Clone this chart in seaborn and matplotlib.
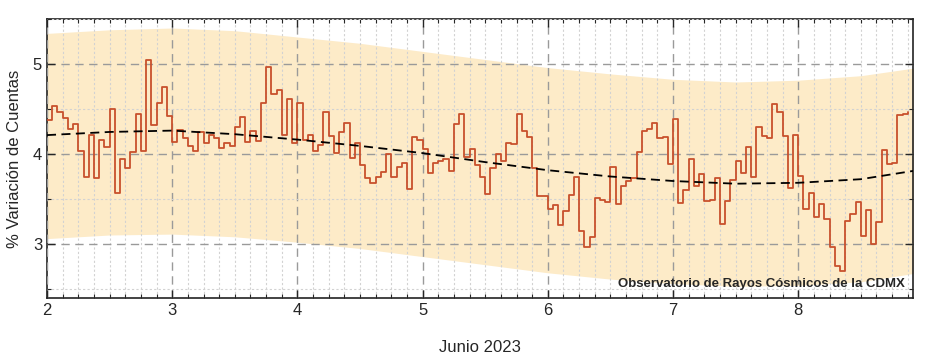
import numpy as np
import pandas as pd
import matplotlib
matplotlib.use("Agg")
import matplotlib.pyplot as plt
import matplotlib.dates as mdates
from matplotlib.ticker import MultipleLocator
import seaborn as sns

# Hourly % count variation, one list per day (June 2023)
day2 = [4.38, 4.53, 4.47, 4.40, 4.28, 4.33, 4.03, 3.75, 4.21, 3.73, 4.15, 4.08,
        4.50, 3.57, 3.95, 3.84, 4.02, 4.44, 4.03, 5.04, 4.32, 4.57, 4.75, 4.42]
day3 = [4.13, 4.27, 4.18, 4.09, 4.03, 4.24, 4.12, 4.21, 4.18, 4.07, 4.12, 4.09,
        4.30, 4.41, 4.13, 4.26, 4.14, 4.57, 4.97, 4.67, 4.71, 4.21, 4.61, 4.12]
day4 = [4.57, 4.15, 4.21, 4.03, 4.10, 4.47, 4.20, 4.01, 4.24, 4.34, 3.96, 4.12,
        3.88, 3.73, 3.68, 3.75, 3.80, 4.00, 3.74, 3.86, 3.90, 3.61, 4.19, 4.15]
day5 = [4.06, 3.79, 3.90, 3.92, 3.94, 3.81, 4.33, 4.44, 3.97, 4.06, 3.88, 3.74,
        3.56, 3.84, 4.00, 3.92, 4.12, 4.11, 4.44, 4.26, 4.19, 3.84, 3.53, 3.53]
day6 = [3.39, 3.43, 3.21, 3.37, 3.55, 3.74, 3.15, 2.97, 3.08, 3.51, 3.49, 3.47,
        3.86, 3.44, 3.64, 3.70, 3.73, 4.02, 4.26, 4.28, 4.34, 4.18, 4.19, 3.89]
day7 = [4.39, 3.46, 3.60, 3.95, 3.64, 3.78, 3.48, 3.49, 3.73, 3.22, 3.48, 3.71,
        3.92, 3.79, 4.08, 3.74, 4.30, 4.20, 4.18, 4.56, 4.47, 4.20, 3.62, 4.21]
day8 = [3.76, 3.39, 3.57, 3.30, 3.44, 3.28, 2.97, 2.76, 2.70, 3.26, 3.33, 3.47,
        3.09, 3.38, 3.00, 3.25, 4.04, 3.89, 3.90, 4.43, 4.44, 4.47]

# smooth fit and its band, sampled every 12 hours from June 2 00:00
fit_curve = [4.21, 4.245, 4.26, 4.22, 4.16, 4.09, 4.01, 3.91, 3.82, 3.75, 3.70,
             3.67, 3.68, 3.72, 3.83]
band_upper = [5.34, 5.38, 5.40, 5.37, 5.30, 5.23, 5.14, 5.05, 4.96, 4.89, 4.83,
              4.80, 4.82, 4.87, 4.97]
band_lower = [3.06, 3.10, 3.11, 3.08, 3.02, 2.95, 2.86, 2.77, 2.68, 2.61, 2.56,
              2.53, 2.54, 2.58, 2.69]

counts = day2 + day3 + day4 + day5 + day6 + day7 + day8
times = pd.date_range("2023-06-02", periods=len(counts), freq="h")
fit_times = pd.date_range("2023-06-02", periods=len(fit_curve), freq="12h")

df = pd.DataFrame({"fecha": times, "variacion": counts})
fit = pd.DataFrame({"fecha": fit_times, "ajuste": fit_curve,
                    "sup": band_upper, "inf": band_lower})

sns.set_style("ticks")
plt.rcParams["font.family"] = ["Liberation Sans", "DejaVu Sans"]

fig = plt.figure(figsize=(9.25, 3.58), dpi=100)
ax = fig.add_axes([47 / 925, 60 / 358, 866 / 925, 279 / 358])

# band
ax.fill_between(fit["fecha"], fit["inf"], fit["sup"], color="#fdebc8", lw=0, zorder=1)

# data and fit
sns.lineplot(data=df, x="fecha", y="variacion", drawstyle="steps-post",
             color="#c8502c", lw=1.3, ax=ax, zorder=3)
sns.lineplot(data=fit, x="fecha", y="ajuste", color="black", lw=1.3,
             linestyle=(0, (5, 3)), ax=ax, zorder=4)

ax.set_xlim(times[0], times[-1] + pd.Timedelta(hours=1))
ax.set_ylim(2.4, 5.5)

ax.xaxis.set_major_locator(mdates.DayLocator())
ax.xaxis.set_major_formatter(mdates.DateFormatter("%-d"))
ax.xaxis.set_minor_locator(mdates.HourLocator(byhour=range(0, 24, 3)))
ax.yaxis.set_major_locator(MultipleLocator(1))
ax.yaxis.set_minor_locator(MultipleLocator(0.5))

ax.set_axisbelow(False)
ax.grid(which="major", color="#9a9a9a", ls=(0, (6, 4)), lw=1.0)
ax.grid(which="minor", color="#d2d2d2", ls=(0, (2, 2)), lw=0.8)

ax.tick_params(which="both", direction="in", top=True, right=True, labelsize=12)
ax.tick_params(which="major", length=6, width=1)
ax.tick_params(which="minor", length=3, width=0.8)
for sp in ax.spines.values():
    sp.set_color("#222222")
    sp.set_linewidth(1.2)

ax.set_xlabel("Junio 2023", fontsize=12, labelpad=16)
ax.set_ylabel("% Variación de Cuentas", fontsize=12, labelpad=8)

ax.text(0.991, 0.03, "Observatorio de Rayos Cósmicos de la CDMX",
        transform=ax.transAxes, ha="right", va="bottom",
        fontsize=9.5, fontweight="bold")

fig.savefig("out.png", dpi=100)
